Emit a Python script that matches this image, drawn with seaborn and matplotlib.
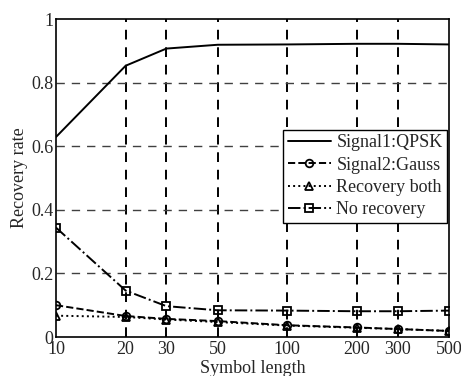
import matplotlib
matplotlib.use("Agg")
import matplotlib.pyplot as plt
import seaborn as sns
import pandas as pd

sns.set_style("white")
plt.rcParams["font.family"] = ["Liberation Serif", "DejaVu Serif"]

# data
symbol_len = [10, 20, 30, 50, 100, 200, 300, 500]
qpsk = [0.629, 0.853, 0.907, 0.919, 0.920, 0.922, 0.922, 0.920]
gauss = [0.100, 0.066, 0.057, 0.050, 0.037, 0.030, 0.025, 0.019]
both = [0.067, 0.063, 0.055, 0.047, 0.036, 0.029, 0.025, 0.019]
none_rec = [0.344, 0.146, 0.097, 0.084, 0.083, 0.081, 0.081, 0.083]
labels = ["Signal1:QPSK", "Signal2:Gauss", "Recovery both", "No recovery"]

styles = [("-", None), ("--", "o"), (":", "^"), ("-.", "s")]

fig = plt.figure(figsize=(4.61, 3.76), dpi=100)
ax = fig.add_axes([56 / 461, 1 - 337 / 376, 393 / 461, 318 / 376])

for vals, lab, (ls, mk) in zip([qpsk, gauss, both, none_rec], labels, styles):
    df = pd.DataFrame({"x": symbol_len, "y": vals})
    sns.lineplot(data=df, x="x", y="y", ax=ax, color="black", linestyle=ls,
                 marker=mk, markersize=5.5, markerfacecolor="none",
                 markeredgecolor="black", markeredgewidth=1.3,
                 linewidth=1.4, label=lab)

ax.set_xscale("log")
ax.set_xlim(10, 500)
ax.set_ylim(0, 1)
ax.set_xticks(symbol_len)
ax.set_xticklabels([str(v) for v in symbol_len])
ax.minorticks_off()
ax.set_yticks([0, 0.2, 0.4, 0.6, 0.8, 1])
ax.set_yticklabels(["0", "0.2", "0.4", "0.6", "0.8", "1"])
ax.tick_params(direction="in", labelsize=13, length=4, color="black", pad=2)
ax.xaxis.set_tick_params(pad=3)

for v in symbol_len[1:-1]:
    ax.axvline(v, color="black", linestyle=(0, (5, 4)), linewidth=1.4, zorder=0)
for v in [0.2, 0.4, 0.6, 0.8]:
    ax.axhline(v, color="#404040", linestyle=(0, (6, 5)), linewidth=1.0, zorder=0)

for sp in ax.spines.values():
    sp.set_color("black")
    sp.set_linewidth(1.2)

ax.set_xlabel("Symbol length", fontsize=13, labelpad=1)
ax.set_ylabel("Recovery rate", fontsize=13, labelpad=2)

leg = ax.legend(loc="upper left", bbox_to_anchor=(0.578, 0.652), fontsize=13,
                frameon=True, fancybox=False, handlelength=2.4,
                borderpad=0.25, labelspacing=0.3, handletextpad=0.3,
                borderaxespad=0)
leg.get_frame().set_edgecolor("black")
leg.get_frame().set_linewidth(1.0)
leg.get_frame().set_alpha(1)

fig.savefig("out.png", dpi=100)
